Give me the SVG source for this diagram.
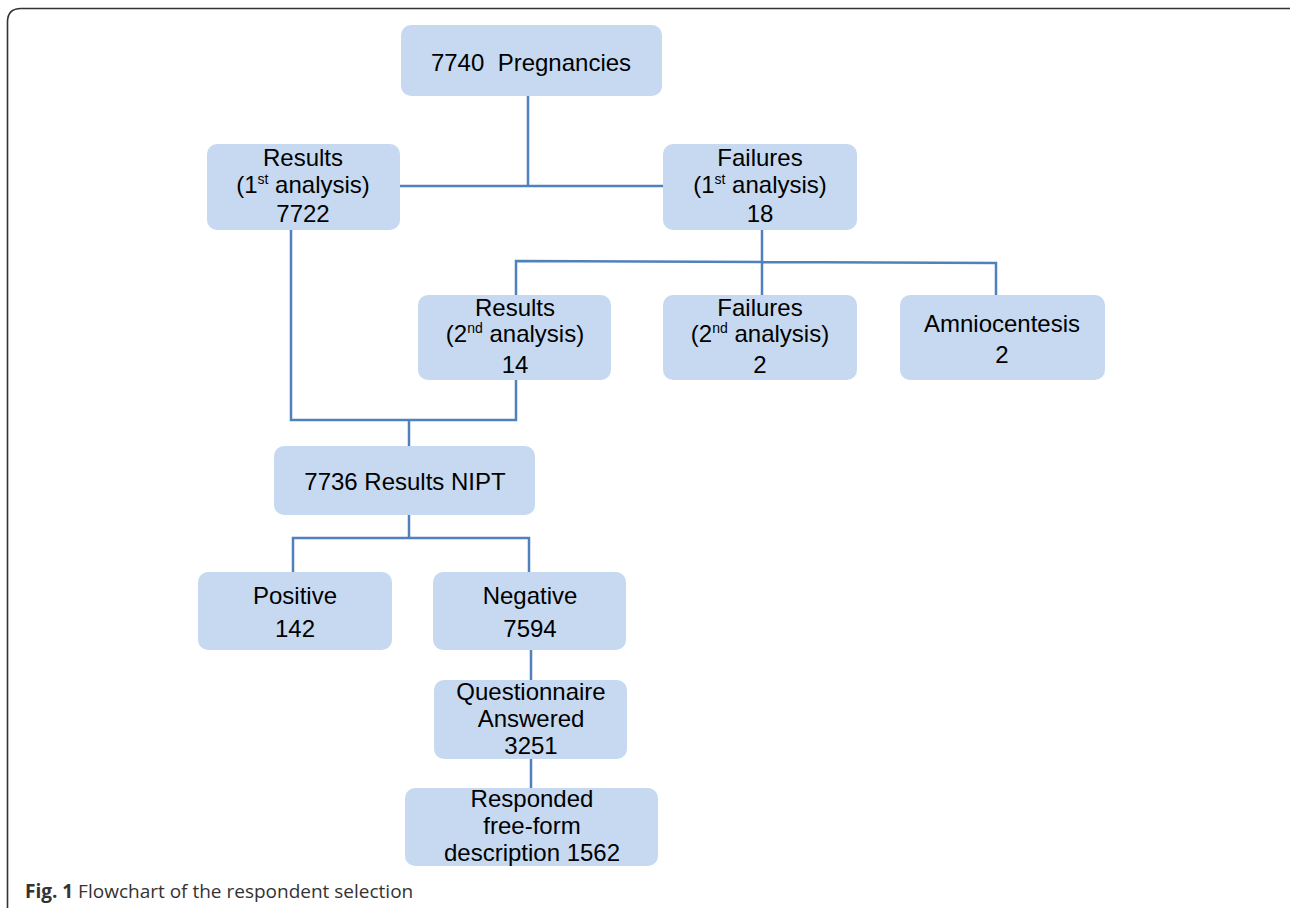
<svg xmlns="http://www.w3.org/2000/svg" width="1290" height="908" viewBox="0 0 1290 908">
<style>
.n rect{fill:#c6d9f0;stroke:none}
.n text{font-family:"Liberation Sans",Arial,sans-serif;font-size:24px;fill:#000;text-anchor:middle}
.sup{font-size:14px}
.c{fill:none;stroke:#4f81bd;stroke-width:2.5}
.cap{font-family:"Open Sans","Liberation Sans",sans-serif;font-size:19px;fill:#333}
</style>
<rect width="1290" height="908" fill="#fff"/>
<path d="M7.5,908 V22 Q7.5,8.5 21,8.5 H1290" fill="none" stroke="#333" stroke-width="1.6"/>
<g id="connectors" class="c">
<path d="M528,96 V186 M400,186 H663"/>
<path d="M762,230 V295 M516,295 V261 L996,263 V295"/>
<path d="M291,230 V420 H516 V380 M409,420 V446"/>
<path d="M409,515 V538 M293,572 V538 H529 V572"/>
<path d="M531,650 V680 M531,759 V788"/>
</g>
<g id="n1" class="n"><rect x="401" y="25" width="261" height="71" rx="10"/><text x="531" y="71" xml:space="preserve">7740  Pregnancies</text></g>
<g id="n2" class="n"><rect x="207" y="144" width="193" height="86" rx="10"/><text x="303" y="166">Results</text><text x="303" y="193">(1<tspan class="sup" dy="-9">st</tspan><tspan dy="9"> analysis)</tspan></text><text x="303" y="222">7722</text></g>
<g id="n3" class="n"><rect x="663" y="144" width="194" height="86" rx="10"/><text x="760" y="166">Failures</text><text x="760" y="193">(1<tspan class="sup" dy="-9">st</tspan><tspan dy="9"> analysis)</tspan></text><text x="760" y="222">18</text></g>
<g id="n4" class="n"><rect x="418" y="295" width="193" height="85" rx="10"/><text x="515" y="316">Results</text><text x="515" y="342">(2<tspan class="sup" dy="-9">nd</tspan><tspan dy="9"> analysis)</tspan></text><text x="515" y="373">14</text></g>
<g id="n5" class="n"><rect x="663" y="295" width="194" height="85" rx="10"/><text x="760" y="316">Failures</text><text x="760" y="342">(2<tspan class="sup" dy="-9">nd</tspan><tspan dy="9"> analysis)</tspan></text><text x="760" y="373">2</text></g>
<g id="n6" class="n"><rect x="900" y="295" width="205" height="85" rx="10"/><text x="1002" y="332">Amniocentesis</text><text x="1002" y="363">2</text></g>
<g id="n7" class="n"><rect x="274" y="446" width="261" height="69" rx="10"/><text x="405" y="490">7736 Results NIPT</text></g>
<g id="n8" class="n"><rect x="198" y="572" width="194" height="78" rx="10"/><text x="295" y="604">Positive</text><text x="295" y="637">142</text></g>
<g id="n9" class="n"><rect x="433" y="572" width="193" height="78" rx="10"/><text x="530" y="604">Negative</text><text x="530" y="637">7594</text></g>
<g id="n10" class="n"><rect x="434" y="680" width="193" height="79" rx="10"/><text x="531" y="700">Questionnaire</text><text x="531" y="727">Answered</text><text x="531" y="754">3251</text></g>
<g id="n11" class="n"><rect x="405" y="788" width="253" height="78" rx="10"/><text x="532" y="807">Responded</text><text x="532" y="834">free-form</text><text x="532" y="861">description 1562</text></g>
<text class="cap" x="25" y="898"><tspan font-weight="bold">Fig. 1</tspan> Flowchart of the respondent selection</text>
</svg>
